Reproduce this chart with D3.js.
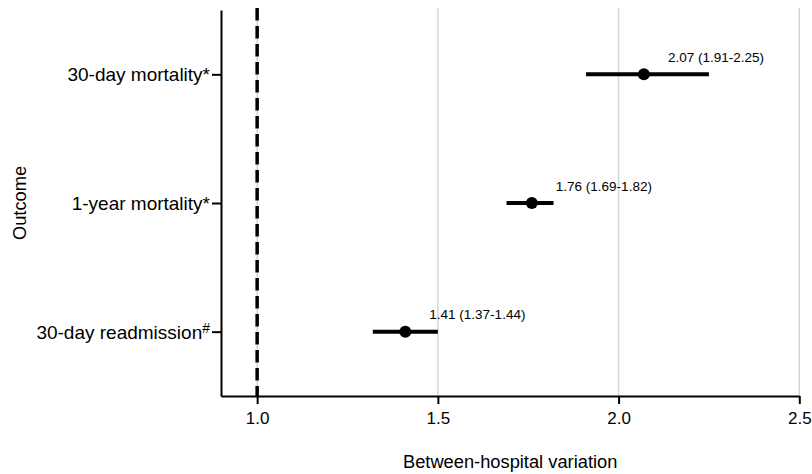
<!DOCTYPE html>
<html>
<head>
<meta charset="utf-8">
<script src="https://cdn.jsdelivr.net/npm/d3@7"></script>
<style>
  body { margin: 0; background: #fff; }
  text { font-family: "Liberation Sans", Arial, sans-serif; fill: #000; }
</style>
</head>
<body>
<div class="viz"></div>
<script>
const w = 812;
const h = 474;

// data
const outcomes = ["30-day mortality", "1-year mortality", "30-day readmission"];
const outcomeMarks = ["*", "*", "#"];
const estimates = [2.07, 1.76, 1.41];
const barLow = [1.91, 1.69, 1.32];
const barHigh = [2.25, 1.82, 1.50];
const estimateLabels = ["2.07 (1.91-2.25)", "1.76 (1.69-1.82)", "1.41 (1.37-1.44)"];
const xTicks = [1.0, 1.5, 2.0, 2.5];
const refValue = 1.0;

const margin = {top: 10, right: 12.7, bottom: 78, left: 221};

const svg = d3.select(".viz")
    .append("svg")
    .attr("width", w)
    .attr("height", h);

const x = d3.scaleLinear()
    .domain([0.9, 2.5])
    .range([margin.left, w - margin.right]);

const y = d3.scalePoint()
    .domain(outcomes)
    .range([margin.top, h - margin.bottom])
    .padding(0.5);

const rows = outcomes.map(function (o, i) {
    return {name: o, mark: outcomeMarks[i], est: estimates[i], lo: barLow[i], hi: barHigh[i], label: estimateLabels[i]};
});

// grid lines
svg.append("g")
    .selectAll("line")
    .data(xTicks)
    .enter()
    .append("line")
    .attr("x1", d => x(d))
    .attr("x2", d => x(d))
    .attr("y1", margin.top - 2)
    .attr("y2", h - margin.bottom)
    .style("stroke", "#d6d6d6")
    .style("stroke-width", 1.5);

// reference line at 1
svg.append("line")
    .attr("x1", x(refValue))
    .attr("x2", x(refValue))
    .attr("y1", 8)
    .attr("y2", h - margin.bottom)
    .style("stroke", "#000")
    .style("stroke-width", 3.5)
    .style("stroke-dasharray", "12.5,5.5");

// x axis
const xAxis = svg.append("g")
    .attr("transform", `translate(0,${h - margin.bottom})`)
    .call(d3.axisBottom(x).tickValues(xTicks).tickFormat(d3.format(".1f")).tickSizeInner(8).tickSizeOuter(0).tickPadding(8));
xAxis.select(".domain").style("stroke-width", 2);
xAxis.selectAll(".tick line").style("stroke-width", 2);
xAxis.selectAll(".tick text")
    .style("font-size", "17px")
    .style("font-family", "Liberation Sans, Arial, sans-serif");

// y axis
const yAxis = svg.append("g")
    .attr("transform", `translate(${margin.left},0)`)
    .call(d3.axisLeft(y).tickSizeInner(9).tickSizeOuter(0).tickPadding(2).tickFormat(""));
yAxis.select(".domain").style("stroke-width", 2);
yAxis.selectAll(".tick line").style("stroke-width", 2);

const yLabels = yAxis.selectAll(".tick")
    .append("text")
    .attr("x", -11)
    .attr("dy", "0.35em")
    .attr("text-anchor", "end")
    .style("font-size", "19px")
    .style("font-family", "Liberation Sans, Arial, sans-serif")
    .style("fill", "#000");
yLabels.append("tspan").text((d, i) => d + (outcomeMarks[i] === "*" ? "*" : ""));
yLabels.filter((d, i) => outcomeMarks[i] === "#")
    .append("tspan")
    .attr("dy", "-0.42em")
    .style("font-size", "14px")
    .text("#");

// error bars
svg.selectAll(".ci")
    .data(rows)
    .enter()
    .append("line")
    .attr("class", "ci")
    .attr("x1", d => x(d.lo))
    .attr("x2", d => x(d.hi))
    .attr("y1", d => y(d.name))
    .attr("y2", d => y(d.name))
    .style("stroke", "#000")
    .style("stroke-width", 4);

svg.selectAll(".pt")
    .data(rows)
    .enter()
    .append("circle")
    .attr("class", "pt")
    .attr("cx", d => x(d.est))
    .attr("cy", d => y(d.name))
    .attr("r", 6)
    .style("fill", "#000");

svg.selectAll(".lab")
    .data(rows)
    .enter()
    .append("text")
    .attr("class", "lab")
    .attr("x", d => x(d.est) + 24)
    .attr("y", d => y(d.name) - 12.5)
    .style("font-size", "13.5px")
    .text(d => d.label);

// axis titles
svg.append("text")
    .attr("x", (margin.left + w - margin.right) / 2)
    .attr("y", 468)
    .attr("text-anchor", "middle")
    .style("font-size", "18.3px")
    .text("Between-hospital variation");

svg.append("text")
    .attr("transform", `translate(26,${(margin.top + h - margin.bottom) / 2}) rotate(-90)`)
    .attr("text-anchor", "middle")
    .style("font-size", "18.3px")
    .text("Outcome");
</script>
</body>
</html>
